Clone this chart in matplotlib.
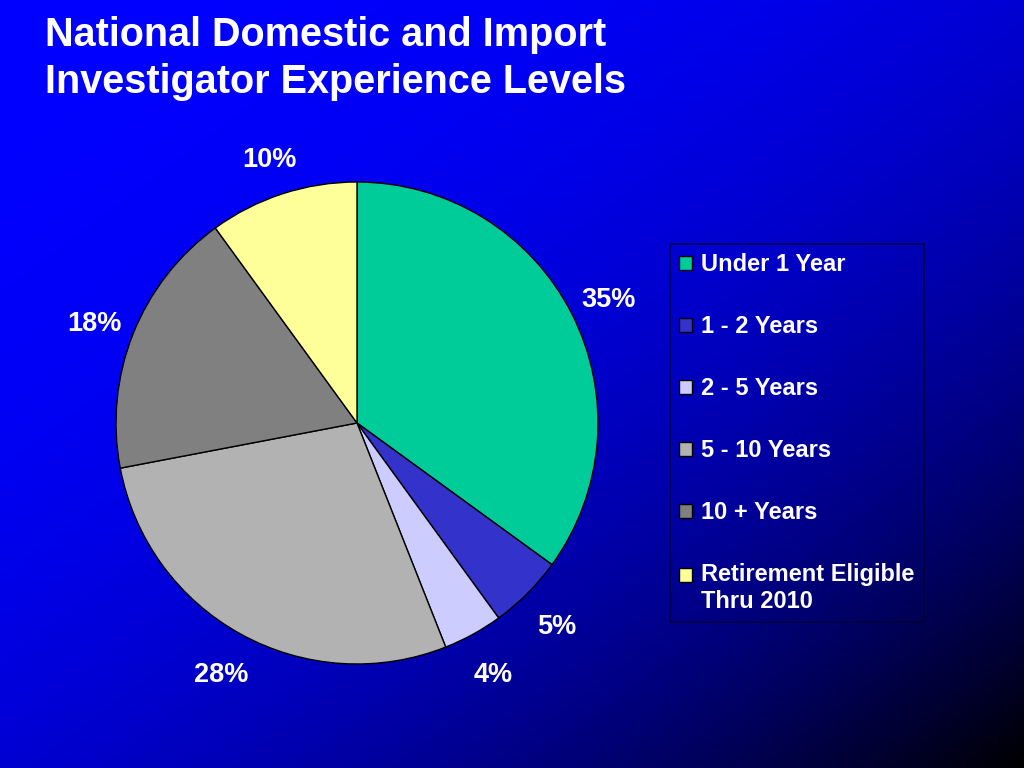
import numpy as np
import matplotlib
matplotlib.use("Agg")
import matplotlib.pyplot as plt
from matplotlib.patches import Patch
from matplotlib.legend_handler import HandlerPatch
from matplotlib.transforms import offset_copy

title = "National Domestic and Import\nInvestigator Experience Levels"
categories = ["Under 1 Year", "1 - 2 Years", "2 - 5 Years", "5 - 10 Years",
              "10 + Years", "Retirement Eligible\nThru 2010"]
values = [35, 5, 4, 28, 18, 10]
colors = ["#00CC99", "#3333CC", "#CCCCFF", "#B2B2B2", "#808080", "#FFFF99"]

W, H = 1024, 768
fig = plt.figure(figsize=(W / 100, H / 100), dpi=100)

# background gradient
bg = fig.add_axes([0, 0, 1, 1], zorder=0)
xx, yy = np.meshgrid(np.linspace(0, 1, 512), np.linspace(0, 1, 384))
s = (xx + yy) / 2
blue = 1 - s ** 2.5
img = np.zeros((384, 512, 3))
img[..., 2] = blue
bg.imshow(img, aspect="auto", extent=[0, 1, 1, 0])
bg.set_axis_off()

plt.rcParams['font.family'] = ['Liberation Sans', 'DejaVu Sans']

fig.text(45 / W, 1 - 16 / H, title, color="white", fontsize=28.5, fontweight="bold",
         va="top", ha="left", linespacing=1.31)

cx, cy, r = 357, 423, 241
ax = fig.add_axes([(cx - r) / W, (H - cy - r) / H, 2 * r / W, 2 * r / H], zorder=1)
wedges, texts, autotexts = ax.pie(
    values, colors=colors, startangle=90, counterclock=False, radius=1,
    autopct=lambda p: f"{p:.0f}%", pctdistance=1.17,
    wedgeprops=dict(edgecolor="black", linewidth=1),
    textprops=dict(color="white", fontsize=19.5, fontweight="bold"))
shifted = offset_copy(ax.transData, fig=fig, x=0, y=-5, units="dots")
for t in autotexts:
    t.set_transform(shifted)
ax.set_xlim(-1, 1)
ax.set_ylim(-1, 1)
ax.set_aspect("equal")
ax.set_axis_off()


class ShiftedPatchHandler(HandlerPatch):
    def __init__(self, shift=0.0, **kw):
        super().__init__(**kw)
        self.shift = shift

    def create_artists(self, legend, orig_handle, xdescent, ydescent, width,
                       height, fontsize, trans):
        arts = super().create_artists(legend, orig_handle, xdescent, ydescent,
                                      width, height, fontsize, trans)
        for a in arts:
            a.set_y(a.get_y() + self.shift * fontsize)
        return arts


handles = [Patch(facecolor=c, edgecolor="black", linewidth=1) for c in colors]
hmap = {handles[-1]: ShiftedPatchHandler(shift=0.57)}
leg = fig.legend(handles, categories, loc="upper left",
                 bbox_to_anchor=(670 / W, 1 - 244 / H), borderaxespad=0,
                 frameon=True, fancybox=False, edgecolor="#000033",
                 facecolor="none", handlelength=0.55, handleheight=0.55,
                 handletextpad=0.35, labelspacing=1.65, borderpad=0.4,
                 prop=dict(size=17, weight="bold"), handler_map=hmap)
for t in leg.get_texts():
    t.set_color("white")
leg.get_frame().set_linewidth(1.2)

fig.savefig("out.png", dpi=100)
